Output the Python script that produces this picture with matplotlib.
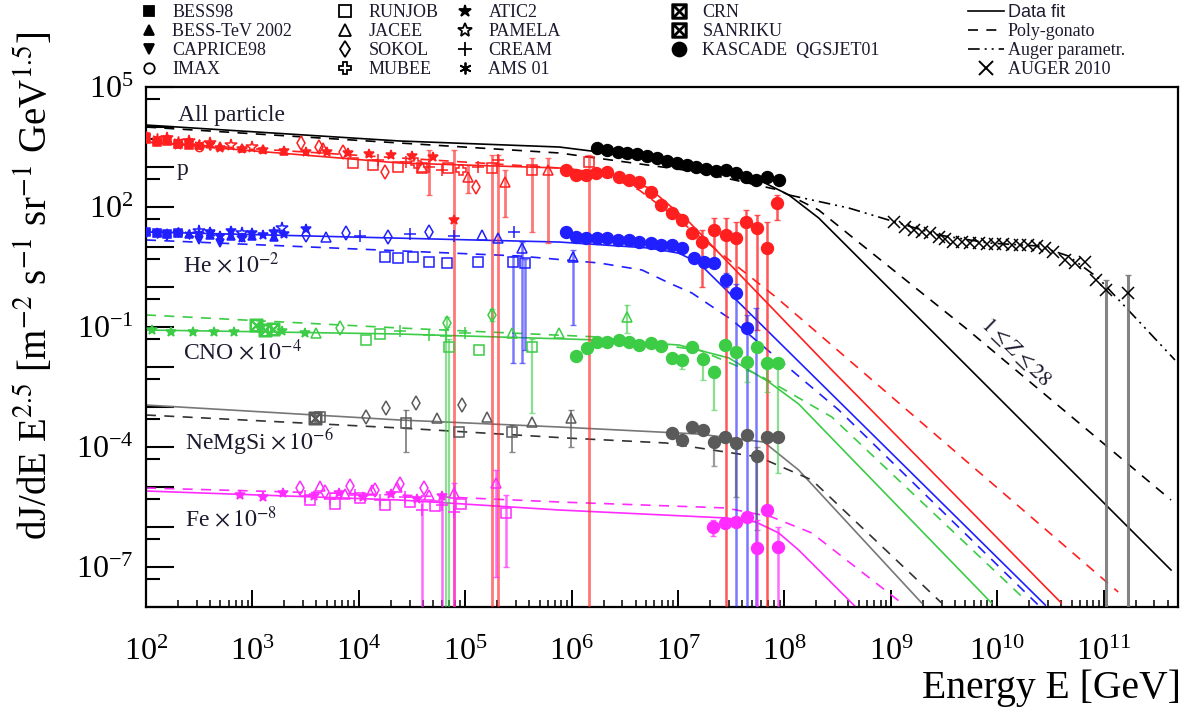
import numpy as np
import matplotlib
matplotlib.use('Agg')
import matplotlib.pyplot as plt
from matplotlib.lines import Line2D
from matplotlib.ticker import FixedLocator, FuncFormatter, LogLocator, LogFormatterMathtext, NullFormatter

plt.rcParams['font.family'] = ['Liberation Serif', 'DejaVu Serif']
plt.rcParams['mathtext.fontset'] = 'stix'

RED = '#ff1f1f'
BLUE = '#1f1fff'
GREEN = '#3ccc46'
GREY = '#5a5a5a'
MAG = '#ff2bff'
TXT = '#1e1a2e'

# ---------------- fit lines ----------------
all_fit_E = [1e2, 2.42e4, 7.66e5, 1.02e7, 5.75e7, 1.1e8, 2.1e8, 4.3e11]
all_fit_J = [1.12e4, 4.47e3, 3.16e3, 1.33e3, 473, 200, 53.1, 8.4e-8]
all_pg_E = [1e2, 2.42e4, 7.66e5, 1.57e7, 8.85e7, 2.1e8, 4.68e8, 5.04e9, 4.3e11]
all_pg_J = [1.0e4, 3.98e3, 2.24e3, 750, 266, 84, 15, 0.0944, 4.73e-6]
auger_fit_E = [1.1e8, 4.02e8, 9.53e8, 2.81e9, 8.26e9, 2.43e10, 4.66e10, 8.91e10, 4.68e11]
auger_fit_J = [200, 94.4, 47.3, 20.0, 12.6, 10.6, 5.96, 1.68, 0.015]

p_fit_E = [1e2, 2.42e4, 7.66e5, 2.25e6, 5.35e6, 1.27e7, 2.79e8, 4.0e10]
p_fit_J = [4220, 1260, 944, 668, 299, 42.2, 8.41e-3, 1.26e-8]
p_pg_E = [1e2, 7.66e5, 1.82e6, 4.31e6, 1.02e7, 2.43e7, 8.3e7, 1.37e11]
p_pg_J = [4220, 944, 750, 266, 47.3, 7.5, 0.562, 2.37e-8]

he_fit_E = [1e2, 7.66e5, 5.35e6, 1.02e7, 1.57e7, 2.83e10]
he_fit_J = [23.7, 13.3, 9.44, 7.0, 3.98, 1.12e-8]
he_pg_E = [1e2, 3.22e5, 1.82e6, 4.59e6, 8.24e6, 1.35e7, 3.21e7, 3.24e8, 2.43e10]
he_pg_J = [15.0, 5.96, 3.98, 2.66, 1.26, 0.708, 0.15, 8.41e-4, 1.12e-8]

cno_fit_E = [1e2, 2.42e4, 1.82e6, 1.02e7, 3.01e7, 7.14e7, 1.36e8, 8.83e9]
cno_fit_J = [0.0841, 0.0668, 0.0473, 0.0355, 0.0168, 4.22e-3, 1.19e-3, 1.26e-8]
cno_pg_E = [1e2, 2.42e4, 1.82e6, 1.57e7, 5.75e7, 2.79e8, 1.84e10]
cno_pg_J = [0.2, 0.0944, 0.0562, 0.0266, 6.31e-3, 5.62e-4, 1.5e-8]

ne_fit_E = [1e2, 2.42e4, 7.66e5, 1.57e7, 6.41e7, 1.36e8, 1.95e9]
ne_fit_J = [1.12e-3, 4.73e-4, 3.16e-4, 2.11e-4, 1.33e-4, 2.66e-5, 1.26e-8]
ne_pg_E = [1e2, 2.42e4, 8.89e5, 7.71e6, 5.75e7, 1.81e8, 3.0e9]
ne_pg_J = [6.31e-4, 2.99e-4, 1.68e-4, 1.26e-4, 5.62e-5, 1.5e-5, 1.26e-8]

fe_fit_E = [1e2, 2.42e4, 7.66e5, 2.82e7, 5.4e7, 8.85e7, 1.36e8, 4.68e8, 5e11]
fe_fit_J = [7.94e-6, 4.73e-6, 2.66e-6, 1.68e-6, 1.33e-6, 7.08e-7, 2.66e-7, 1e-8, 1e-8]
fe_pg_E = [1e2, 2.42e4, 7.66e5, 2.82e7, 7.62e7, 1.81e8, 1.26e9]
fe_pg_J = [9.44e-6, 6.31e-6, 4.22e-6, 2.99e-6, 1.78e-6, 7.08e-7, 1.26e-8]

# ---------------- proton ----------------
p_bess98_E = [100, 126, 158, 200, 251]
p_bess98_J = [5010, 4220, 4470, 3760, 3550]
p_besstev_E = [126, 200, 316, 501, 794, 1260, 2000]
p_besstev_J = [4730, 3980, 3550, 3350, 2990, 2820, 2510]
p_caprice_E = [100, 158, 251, 398]
p_caprice_J = [5620, 4730, 3980, 3350]
p_imax_E = [126, 200, 316]
p_imax_J = [4470, 3980, 3160]
p_ams_E = [100, 126, 158, 200, 251, 316, 398]
p_ams_J = [5960, 5310, 5010, 4470, 4220, 3760, 3550]
p_pamela_E = [158, 251, 398, 631, 1000]
p_pamela_J = [5310, 4470, 3980, 3550, 3160]
p_atic_E = [200, 316, 501, 794, 1260, 2000, 3160, 5010, 7940, 1.26e4, 2.0e4, 3.16e4, 5.01e4, 7.93e4]
p_atic_J = [3550, 3350, 2990, 2820, 2660, 2510, 2370, 2370, 2240, 2110, 2000, 1880, 1780, 47.3]
p_sokol_E = [2850, 4200, 7050, 1.78e4, 1.25e5]
p_sokol_J = [3980, 3160, 2370, 750, 316]
p_runjob_E = [8750, 1.35e4, 2.36e4, 3.96e4, 6.95e4, 1.8e5, 4.27e5, 1.46e6]
p_runjob_J = [1260, 1120, 1000, 944, 944, 944, 841, 1330]
p_jacee_E = [4570, 3.96e4, 1.07e5, 2.38e5, 6.03e5]
p_jacee_J = [2990, 1000, 562, 422, 841]
p_cream_E = [1.53e4, 2.75e4, 4.52e4, 6.11e4, 1.33e5, 2.05e5]
p_cream_J = [1500, 1330, 1000, 841, 1000, 1500]
p_mubee_E = [3.48e4, 9.2e4]
p_mubee_J = [1260, 841]
p_err_E = [7.93e4, 1.8e5, 2.05e5, 1.46e6, 4.27e5, 1.07e5, 2.38e5, 6.03e5, 4.52e4]
p_err_lo = [1e-9, 1e-9, 1e-9, 1e-9, 24.1, 224, 56.2, 12.6, 200]
p_err_hi = [2660, 2000, 2000, 2000, 1680, 1120, 841, 1680, 2660]
p_kas_E = [8.85e5, 1.10e6, 1.36e6, 1.69e6, 2.17e6, 2.80e6, 3.47e6, 4.31e6, 5.54e6, 6.89e6, 8.85e6,
           1.10e7, 1.36e7, 1.69e7, 2.18e7, 2.80e7, 3.48e7, 4.32e7, 5.54e7, 6.89e7, 8.55e7]
p_kas_J = [841, 631, 631, 695, 763, 573, 473, 429, 241, 112, 69.5,
           47.3, 22.0, 13.6, 26.6, 20, 16.5, 43, 29.3, 9.3, 124]
p_kas_err_E = [1.69e7, 2.18e7, 2.80e7, 3.48e7, 4.32e7, 5.54e7, 6.89e7, 8.55e7]
p_kas_err_lo = [1.0, 4.7, 1e-9, 0.84, 0.084, 0.084, 1e-9, 47]
p_kas_err_hi = [26.6, 53, 53, 42, 84, 63, 42, 200]

# ---------------- all particle KASCADE + Auger ----------------
all_kas_E = [1.75e6, 2.17e6, 2.70e6, 3.34e6, 4.15e6, 5.15e6, 6.39e6, 7.94e6, 9.84e6, 1.22e7,
             1.47e7, 1.82e7, 2.26e7, 2.80e7, 3.48e7, 4.32e7, 5.36e7, 6.89e7, 8.85e7]
all_kas_J = [2930, 2660, 2415, 2200, 2110, 1880, 1650, 1440, 1280, 1120,
             1020, 875, 810, 841, 695, 573, 473, 573, 473]
auger_E = [1.06e9, 1.37e9, 1.64e9, 1.96e9, 2.34e9, 2.81e9, 3.24e9, 3.88e9, 4.65e9, 5.57e9,
           6.67e9, 7.98e9, 9.55e9, 1.14e10, 1.37e10, 1.64e10, 1.96e10, 2.35e10, 2.82e10,
           3.37e10, 4.34e10, 5.38e10, 6.67e10, 8.57e10, 1.06e11, 1.70e11]
auger_J = [43, 32.2, 26.6, 24.2, 22.0, 18.1, 15.8, 13.6, 13.1, 12.4,
           12.4, 11.9, 11.9, 11.9, 11.2, 11.2, 11.2, 10.8, 9.3,
           7.6, 4.7, 3.9, 4.3, 1.5, 0.84, 0.70]
auger_err_E = [1.06e11, 1.70e11]
auger_err_lo = [1e-9, 1e-9]
auger_err_hi = [1.5, 2.0]

# ---------------- helium x 1e-2 ----------------
he_bess98_E = [100, 126, 158, 200]
he_bess98_J = [23.7, 22.4, 21.1, 22.4]
he_besstev_E = [158, 251, 398, 631, 1000, 1580]
he_besstev_J = [22.4, 21.1, 20.0, 18.8, 18.8, 17.8]
he_caprice_E = [100, 158, 316, 501, 794]
he_caprice_J = [22.4, 18.8, 15.0, 12.6, 16.8]
he_ams_E = [100, 126, 200, 251, 398]
he_ams_J = [23.7, 22.4, 23.7, 21.1, 22.4]
he_pamela_E = [316, 794, 1910]
he_pamela_J = [25.1, 22.4, 29.3]
he_atic_E = [126, 200, 316, 398, 501, 631, 794, 1000, 1260, 1580, 2000, 3160]
he_atic_J = [22.4, 22.4, 21.1, 23.7, 18.8, 25.1, 16.8, 22.4, 20.0, 23.7, 21.1, 28.2]
he_sokol_E = [3170, 7520, 1.9e4, 4.61e4]
he_sokol_J = [20.0, 22.4, 17.8, 23.7]
he_jacee_E = [4890, 1.44e5, 2.05e5, 3.42e5, 1.02e6]
he_jacee_J = [17.8, 20.0, 16.8, 9.44, 5.62]
he_runjob_E = [1.78e4, 2.36e4, 3.2e4, 4.52e4, 6.81e4, 1.33e5, 2.83e5, 3.67e5]
he_runjob_J = [5.62, 5.31, 5.62, 4.22, 3.98, 4.22, 4.22, 3.98]
he_cream_E = [1.02e4, 3.0e4, 7.93e4, 2.9e5]
he_cream_J = [18.8, 21.1, 18.8, 23.7]
he_err_E = [1.02e6, 3.42e5, 2.83e5, 3.67e5]
he_err_lo = [0.112, 0.0126, 0.0126, 0.0266]
he_err_hi = [8.41, 13.3, 6.0, 5.0]
he_kas_E = [8.85e5, 1.10e6, 1.36e6, 1.75e6, 2.17e6, 2.70e6, 3.47e6, 4.31e6, 5.54e6, 6.89e6,
            8.85e6, 1.10e7, 1.41e7, 1.75e7, 2.18e7, 2.80e7, 3.48e7, 4.47e7]
he_kas_J = [24.1, 18.1, 16.5, 16.5, 16.5, 15.0, 15.0, 13.6, 12.4, 11.2,
            11.2, 9.27, 5.22, 4.29, 3.91, 1.50, 0.695, 0.0928]
he_kas_err_E = [2.80e7, 3.48e7, 4.47e7, 5.46e7]
he_kas_err_lo = [1.0, 1e-9, 1e-9, 1e-9]
he_kas_err_hi = [2.2, 1.2, 0.2, 0.3]

# ---------------- CNO x 1e-4 ----------------
cno_atic_E = [113, 172, 274, 437, 673, 1170, 1890, 3090]
cno_atic_J = [0.0841, 0.0764, 0.0737, 0.0737, 0.0764, 0.0944, 0.0794, 0.0708]
cno_crn_E = [1070, 1300, 1550]
cno_crn_J = [0.11, 0.085, 0.09]
cno_runjob_E = [1.18e4, 1.57e4, 7.11e4, 1.36e5, 4.27e5]
cno_runjob_J = [0.0473, 0.0668, 0.0316, 0.0266, 0.0316]
cno_jacee_E = [3940, 2.77e5, 7.66e5, 3.33e6]
cno_jacee_J = [0.0708, 0.0708, 0.0708, 0.178]
cno_sokol_E = [6600, 6.81e4, 1.8e5]
cno_sokol_J = [0.0944, 0.126, 0.2]
cno_cream_E = [2.42e4, 4.61e4, 6.67e4, 1.0e5]
cno_cream_J = [0.0794, 0.0631, 0.0596, 0.0708]
cno_err_E = [6.67e4, 7.11e4, 4.27e5, 3.33e6, 6.81e4, 1.8e5]
cno_err_lo = [1e-9, 1e-9, 7.08e-4, 0.0708, 0.1, 0.14]
cno_err_hi = [0.09, 0.05, 0.05, 0.355, 0.18, 0.28]
cno_kas_E = [1.10e6, 1.41e6, 1.75e6, 2.17e6, 2.80e6, 3.47e6, 4.31e6, 5.54e6, 6.89e6, 8.85e6,
             1.10e7, 1.36e7, 1.72e7, 2.18e7, 2.74e7, 3.48e7, 4.41e7, 5.54e7, 6.89e7, 8.73e7]
cno_kas_J = [0.0188, 0.0293, 0.043, 0.043, 0.0473, 0.043, 0.0355, 0.0391, 0.0335, 0.0165,
             0.015, 0.0322, 0.0156, 7.63e-3, 0.0355, 0.0241, 0.0136, 0.0322, 0.0124, 0.0124]
cno_kas_err_E = [1.10e7, 1.72e7, 2.18e7, 4.41e7, 6.89e7, 8.73e7]
cno_kas_err_lo = [0.0089, 4.73e-3, 8.4e-4, 4.3e-3, 2.4e-3, 2.24e-5]
cno_kas_err_hi = [0.02, 0.02, 0.0107, 0.017, 0.016, 0.016]

# ---------------- NeMgSi x 1e-6 ----------------
ne_runjob_E = [4290, 2.79e4, 8.83e4, 2.77e5]
ne_runjob_J = [5.62e-4, 3.98e-4, 2.37e-4, 2.37e-4]
ne_sokol_E = [1.18e4, 1.82e4, 3.48e4, 9.42e4]
ne_sokol_J = [5.62e-4, 9.44e-4, 1.26e-3, 1.12e-3]
ne_jacee_E = [5.48e4, 1.61e5, 4.27e5, 9.9e5]
ne_jacee_J = [5.31e-4, 5.62e-4, 4.22e-4, 5.31e-4]
ne_crn_E = [3900]
ne_crn_J = [5.3e-4]
ne_err_E = [2.77e5, 2.79e4, 9.9e5]
ne_err_lo = [7.5e-5, 7.5e-5, 1e-4]
ne_err_hi = [3.55e-4, 8.4e-4, 8.41e-4]
ne_kas_E = [8.85e6, 1.10e7, 1.36e7, 1.72e7, 2.18e7, 2.74e7, 3.48e7, 4.41e7, 5.54e7, 6.89e7, 8.73e7]
ne_kas_J = [2.2e-4, 1.5e-4, 3.22e-4, 2.66e-4, 1.36e-4, 1.81e-4, 1.24e-4, 2.0e-4, 5.96e-5, 1.81e-4, 1.81e-4]
ne_kas_err_E = [2.18e7, 3.48e7, 5.54e7]
ne_kas_err_lo = [3.35e-5, 5.6e-6, 8.4e-7]
ne_kas_err_hi = [1.8e-4, 1.6e-4, 1e-4]

# ---------------- Fe x 1e-8 ----------------
fe_atic_E = [762, 1250, 1930, 3800, 6500, 1.1e4, 2.0e4, 3.5e4, 6.0e4]
fe_atic_J = [6.31e-6, 5.62e-6, 7.08e-6, 6.0e-6, 7.0e-6, 5.5e-6, 6.5e-6, 5.0e-6, 6.0e-6]
fe_sokol_E = [2790, 4780, 8200, 1.41e4, 2.42e4, 4.14e4]
fe_sokol_J = [9.44e-6, 7.5e-6, 1.06e-5, 8.41e-6, 1.19e-5, 9.44e-6]
fe_runjob_E = [3450, 5930, 1.02e4, 1.75e4, 3.0e4, 5.25e4, 9.2e4, 2.43e5]
fe_runjob_J = [4.73e-6, 3.76e-6, 5.31e-6, 3.55e-6, 4.22e-6, 3.35e-6, 3.76e-6, 2.24e-6]
fe_jacee_E = [4290, 7360, 1.32e4, 2.31e4, 4.61e4, 7.93e4, 1.96e5]
fe_jacee_J = [1.06e-5, 6.68e-6, 8.41e-6, 1e-5, 6.31e-6, 7.08e-6, 1.26e-5]
fe_cream_E = [3100, 5320, 9140, 1.57e4, 2.69e4, 3.96e4, 6.11e4, 7.93e4]
fe_cream_J = [5.96e-6, 5.01e-6, 6.31e-6, 4.73e-6, 5.62e-6, 2.66e-6, 3.55e-6, 2.37e-6]
fe_err_E = [2.43e5, 1.96e5, 3.96e4, 6.11e4, 7.93e4]
fe_err_lo = [1e-7, 5.62e-8, 1e-9, 1e-9, 1e-9]
fe_err_hi = [6.31e-6, 2.66e-5, 5e-6, 6e-6, 1.26e-5]
fe_kas_E = [2.13e7, 2.74e7, 3.48e7, 4.41e7, 5.54e7, 6.89e7, 8.73e7]
fe_kas_J = [1.02e-6, 1.24e-6, 1.36e-6, 1.81e-6, 2.93e-7, 2.66e-6, 3.22e-7]
fe_kas_err_E = [2.13e7, 5.54e7, 8.73e7]
fe_kas_err_lo = [6e-7, 1e-9, 1e-9]
fe_kas_err_hi = [1.5e-6, 1.5e-6, 1e-6]

# marker, filled, size
MARK = {
    'BESS98': ('s', True, 5.5),
    'BESS-TeV 2002': ('^', True, 6),
    'CAPRICE98': ('v', True, 6),
    'IMAX': ('o', False, 6),
    'RUNJOB': ('s', False, 7),
    'JACEE': ('^', False, 7.5),
    'SOKOL': ('d', False, 7),
    'MUBEE': ('P', False, 7.5),
    'ATIC2': ('*', True, 7.5),
    'PAMELA': ('*', False, 8.5),
    'CREAM': ('+', True, 8),
    'AMS 01': ((6, 2, 0), True, 7),
    'CRN': (r'$\boxtimes$', True, 9),
    'SANRIKU': (r'$\boxtimes$', True, 9),
    'KASCADE  QGSJET01': ('o', True, 8.5),
}


def draw_points(ax, E, J, name, color, z=5):
    m, filled, ms = MARK[name]
    ax.plot(E, J, ls='none', marker=m, ms=ms, mec=color,
            mfc=color if filled else 'none', mew=1.1, zorder=z)


def draw_bars(ax, E, lo, hi, color, lw=1.4, alpha=0.75):
    ax.vlines(E, lo, hi, colors=color, lw=lw, alpha=alpha, zorder=3)
    ax.plot(E, lo, ls='none', marker='_', ms=5, color=color, alpha=alpha, zorder=3)
    ax.plot(E, hi, ls='none', marker='_', ms=5, color=color, alpha=alpha, zorder=3)


def draw_fits(ax, fit, pg, color):
    ax.plot(fit[0], fit[1], color=color, lw=1.2, zorder=2)
    ax.plot(pg[0], pg[1], color=color, lw=1.2, dashes=(6, 5), zorder=2)


fig = plt.figure(figsize=(11.85, 7.10), dpi=100)
ax = fig.add_axes([146 / 1185, 1 - 607 / 710, (1178 - 146) / 1185, (607 - 87) / 710])
ax.set_xscale('log')
ax.set_yscale('log')

# fits
draw_fits(ax, (all_fit_E, all_fit_J), (all_pg_E, all_pg_J), 'black')
ax.plot(auger_fit_E, auger_fit_J, color='black', lw=1.2, dashes=(7, 3, 1.2, 3, 1.2, 3), zorder=2)
draw_fits(ax, (p_fit_E, p_fit_J), (p_pg_E, p_pg_J), RED)
draw_fits(ax, (he_fit_E, he_fit_J), (he_pg_E, he_pg_J), BLUE)
draw_fits(ax, (cno_fit_E, cno_fit_J), (cno_pg_E, cno_pg_J), GREEN)
ax.plot(ne_fit_E, ne_fit_J, color='#777777', lw=1.2, zorder=2)
ax.plot(ne_pg_E, ne_pg_J, color='#333333', lw=1.2, dashes=(6, 5), zorder=2)
draw_fits(ax, (fe_fit_E, fe_fit_J), (fe_pg_E, fe_pg_J), MAG)

# error bars
draw_bars(ax, p_err_E, p_err_lo, p_err_hi, RED, lw=2, alpha=0.6)
draw_bars(ax, p_kas_err_E, p_kas_err_lo, p_kas_err_hi, RED, lw=1.8, alpha=0.75)
draw_bars(ax, he_err_E, he_err_lo, he_err_hi, BLUE, lw=1.8, alpha=0.6)
draw_bars(ax, he_kas_err_E, he_kas_err_lo, he_kas_err_hi, BLUE, lw=1.8, alpha=0.6)
draw_bars(ax, cno_err_E, cno_err_lo, cno_err_hi, GREEN, lw=1.6, alpha=0.6)
draw_bars(ax, cno_kas_err_E, cno_kas_err_lo, cno_kas_err_hi, GREEN, lw=1.6, alpha=0.6)
draw_bars(ax, ne_err_E, ne_err_lo, ne_err_hi, GREY, lw=1.4, alpha=0.7)
draw_bars(ax, ne_kas_err_E, ne_kas_err_lo, ne_kas_err_hi, GREY, lw=1.6, alpha=0.6)
draw_bars(ax, fe_err_E, fe_err_lo, fe_err_hi, MAG, lw=1.8, alpha=0.7)
draw_bars(ax, fe_kas_err_E, fe_kas_err_lo, fe_kas_err_hi, MAG, lw=1.8, alpha=0.7)
draw_bars(ax, auger_err_E, auger_err_lo, auger_err_hi, '#777777', lw=2.2, alpha=0.9)

# direct measurements
direct = [
    (p_ams_E, p_ams_J, 'AMS 01', RED), (p_caprice_E, p_caprice_J, 'CAPRICE98', RED),
    (p_bess98_E, p_bess98_J, 'BESS98', RED), (p_besstev_E, p_besstev_J, 'BESS-TeV 2002', RED),
    (p_imax_E, p_imax_J, 'IMAX', RED), (p_pamela_E, p_pamela_J, 'PAMELA', RED),
    (p_atic_E, p_atic_J, 'ATIC2', RED), (p_sokol_E, p_sokol_J, 'SOKOL', RED),
    (p_runjob_E, p_runjob_J, 'RUNJOB', RED), (p_jacee_E, p_jacee_J, 'JACEE', RED),
    (p_cream_E, p_cream_J, 'CREAM', RED), (p_mubee_E, p_mubee_J, 'MUBEE', RED),
    (he_ams_E, he_ams_J, 'AMS 01', BLUE), (he_caprice_E, he_caprice_J, 'CAPRICE98', BLUE),
    (he_bess98_E, he_bess98_J, 'BESS98', BLUE), (he_besstev_E, he_besstev_J, 'BESS-TeV 2002', BLUE),
    (he_pamela_E, he_pamela_J, 'PAMELA', BLUE), (he_atic_E, he_atic_J, 'ATIC2', BLUE),
    (he_sokol_E, he_sokol_J, 'SOKOL', BLUE), (he_jacee_E, he_jacee_J, 'JACEE', BLUE),
    (he_runjob_E, he_runjob_J, 'RUNJOB', BLUE), (he_cream_E, he_cream_J, 'CREAM', BLUE),
    (cno_atic_E, cno_atic_J, 'ATIC2', GREEN), (cno_crn_E, cno_crn_J, 'CRN', GREEN),
    (cno_runjob_E, cno_runjob_J, 'RUNJOB', GREEN), (cno_jacee_E, cno_jacee_J, 'JACEE', GREEN),
    (cno_sokol_E, cno_sokol_J, 'SOKOL', GREEN), (cno_cream_E, cno_cream_J, 'CREAM', GREEN),
    (ne_runjob_E, ne_runjob_J, 'RUNJOB', GREY), (ne_sokol_E, ne_sokol_J, 'SOKOL', GREY),
    (ne_jacee_E, ne_jacee_J, 'JACEE', GREY), (ne_crn_E, ne_crn_J, 'CRN', GREY),
    (fe_atic_E, fe_atic_J, 'ATIC2', MAG), (fe_sokol_E, fe_sokol_J, 'SOKOL', MAG),
    (fe_runjob_E, fe_runjob_J, 'RUNJOB', MAG), (fe_jacee_E, fe_jacee_J, 'JACEE', MAG),
    (fe_cream_E, fe_cream_J, 'CREAM', MAG),
]
for E, J, name, col in direct:
    draw_points(ax, E, J, name, col)

kas = [(all_kas_E, all_kas_J, 'black'), (p_kas_E, p_kas_J, RED), (he_kas_E, he_kas_J, BLUE),
       (cno_kas_E, cno_kas_J, GREEN), (ne_kas_E, ne_kas_J, GREY), (fe_kas_E, fe_kas_J, MAG)]
for E, J, col in kas:
    draw_points(ax, E, J, 'KASCADE  QGSJET01', col, z=6)

ax.plot(auger_E, auger_J, ls='none', marker='x', ms=8, mew=1.1, color='black', zorder=6)

# axes
ax.set_xlim(1e2, 5e11)
ax.set_ylim(1e-8, 1e5)
ax.xaxis.set_major_locator(LogLocator(base=10, numticks=20))
ax.xaxis.set_minor_locator(LogLocator(base=10, subs=np.arange(2, 10), numticks=20))
ax.xaxis.set_major_formatter(LogFormatterMathtext())
ax.xaxis.set_minor_formatter(NullFormatter())
ylabelled = [5, 2, -1, -4, -7]
ax.yaxis.set_major_locator(FixedLocator([10.0 ** k for k in range(-8, 6)]))
ax.yaxis.set_major_formatter(FuncFormatter(
    lambda v, p: r'$\mathdefault{10^{%d}}$' % round(np.log10(v)) if round(np.log10(v)) in ylabelled else ''))
ax.yaxis.set_minor_locator(FixedLocator([5 * 10.0 ** k for k in range(-9, 5)]))
ax.yaxis.set_minor_formatter(NullFormatter())
ax.tick_params(axis='x', which='major', direction='in', length=12, width=1.4, pad=22,
               labelsize=23, top=False, colors='black')
ax.tick_params(axis='x', which='minor', direction='in', length=5, width=1.1, top=False)
ax.tick_params(axis='y', which='major', direction='in', length=20, width=1.5, pad=9,
               labelsize=23, right=False)
ax.tick_params(axis='y', which='minor', direction='in', length=10, width=1.5, right=False)
for s in ax.spines.values():
    s.set_linewidth(1.6)

# labels
lab = dict(transform=ax.transAxes, fontsize=17, va='baseline', color=TXT)
ax.text(0.031, 0.9346, 'All particle', **lab)
ax.text(0.030, 0.8308, 'p', **lab)
ax.text(0.0359, 0.6423, r'He $\times\,10^{-2}$', **lab)
ax.text(0.0359, 0.475, r'CNO $\times\,10^{-4}$', **lab)
ax.text(0.0378, 0.302, r'NeMgSi $\times\,10^{-6}$', **lab)
ax.text(0.0378, 0.1538, r'Fe $\times\,10^{-8}$', **lab)
ax.text(1.5e10, 0.0237, r'$1 \leq Z \leq 28$', fontsize=16, rotation=-44,
        ha='center', va='center', color=TXT)

fig.text(35 / 1185, 1 - 286 / 710,
         r'dJ/dE E$^{2.5}$ [m$^{-2}$ s$^{-1}$ sr$^{-1}$ GeV$^{1.5}$]',
         rotation=90, ha='center', va='center', fontsize=28)
fig.text(1181 / 1185, 1 - 698 / 710, 'Energy E [GeV]', ha='right', va='baseline', fontsize=28.5)

# legends: one per column, as in the original
columns = [['BESS98', 'BESS-TeV 2002', 'CAPRICE98', 'IMAX'],
           ['RUNJOB', 'JACEE', 'SOKOL', 'MUBEE'],
           ['ATIC2', 'PAMELA', 'CREAM', 'AMS 01'],
           ['CRN', 'SANRIKU', 'KASCADE  QGSJET01']]
col_left = [140, 336, 456, 670]
leg_opts = dict(loc='upper left', frameon=False, fontsize=13, labelspacing=0.12,
                borderpad=0, borderaxespad=0, labelcolor=TXT)
for names, x0 in zip(columns, col_left):
    handles = []
    for n in names:
        m, filled, ms = MARK[n]
        handles.append(Line2D([], [], ls='none', marker=m, ms=ms + 1.5, color='black',
                              mfc='black' if filled else 'none', mew=1.3))
    fig.legend(handles, names, bbox_to_anchor=(x0 / 1185, 1 - 4 / 710),
               handlelength=1.0, handletextpad=0.8, **leg_opts)

line_h = [Line2D([], [], color='black', lw=1.2),
          Line2D([], [], color='black', lw=1.2, dashes=(6, 5)),
          Line2D([], [], color='black', lw=1.2, dashes=(7, 3, 1.2, 3, 1.2, 3)),
          Line2D([], [], ls='none', marker='x', ms=10, mew=1.4, color='black')]
leg2 = fig.legend(line_h, ['Data fit', 'Poly-gonato', 'Auger parametr.', 'AUGER 2010'],
                  bbox_to_anchor=(968 / 1185, 1 - 4 / 710),
                  handlelength=2.0, handletextpad=0.2, **leg_opts)
leg2.get_texts()[0].set_family('Liberation Sans')

fig.savefig('out.png', dpi=100)
